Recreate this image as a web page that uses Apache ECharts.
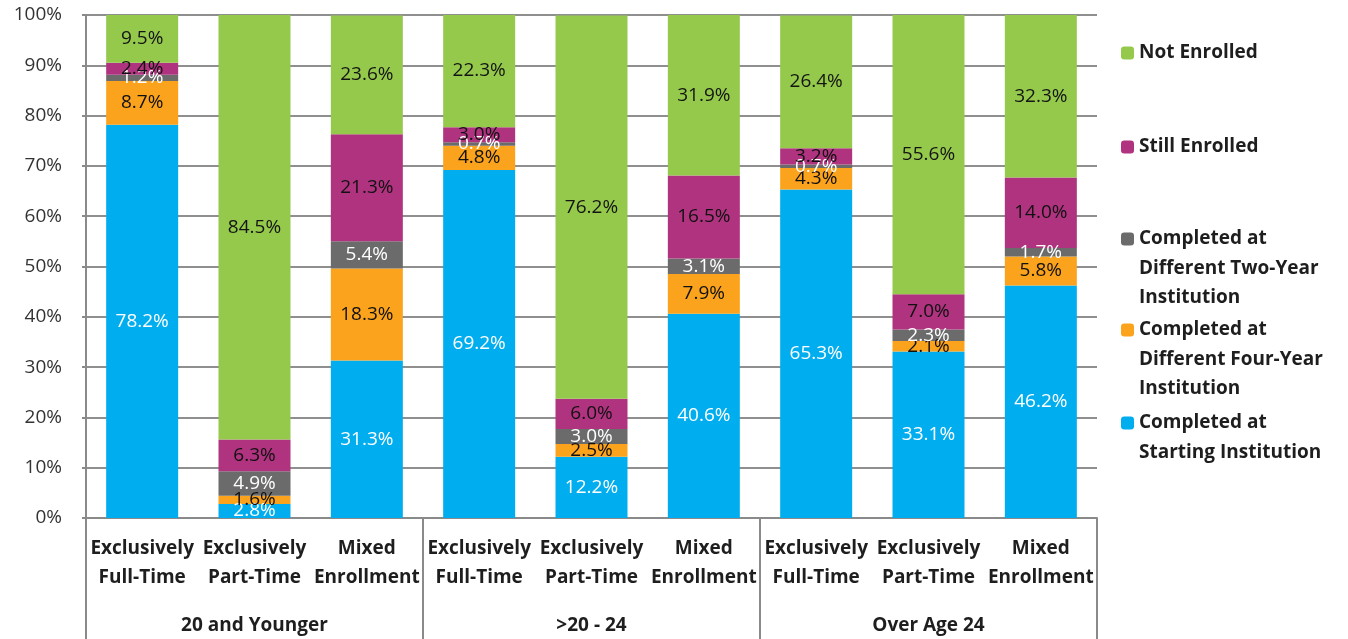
<!DOCTYPE html>
<html>
<head>
<meta charset="utf-8">
<script src="https://cdn.jsdelivr.net/npm/echarts@6/dist/echarts.min.js"></script>
<style>html,body{margin:0;padding:0;background:#fff}#c{width:1348px;height:639px}</style>
</head>
<body>
<div id="c"></div>
<script>
const categories = ['Exclusively\nFull-Time','Exclusively\nPart-Time','Mixed\nEnrollment','Exclusively\nFull-Time','Exclusively\nPart-Time','Mixed\nEnrollment','Exclusively\nFull-Time','Exclusively\nPart-Time','Mixed\nEnrollment'];
const groups = ['20 and Younger','>20 - 24','Over Age 24'];
const completedStarting = [78.2, 2.8, 31.3, 69.2, 12.2, 40.6, 65.3, 33.1, 46.2];
const completedFourYear = [8.7, 1.6, 18.3, 4.8, 2.5, 7.9, 4.3, 2.1, 5.8];
const completedTwoYear = [1.2, 4.9, 5.4, 0.7, 3.0, 3.1, 0.7, 2.3, 1.7];
const stillEnrolled = [2.4, 6.3, 21.3, 3.0, 6.0, 16.5, 3.2, 7.0, 14.0];
const notEnrolled = [9.5, 84.5, 23.6, 22.3, 76.2, 31.9, 26.4, 55.6, 32.3];
const yTicks = [0,10,20,30,40,50,60,70,80,90,100];

const FONT = 'Open Sans';
const seriesDefs = [
  {name:'Completed at Starting Institution', data:completedStarting, color:'#00AEEF', label:'#ffffff'},
  {name:'Completed at Different Four-Year Institution', data:completedFourYear, color:'#FBA31C', label:'#111111'},
  {name:'Completed at Different Two-Year Institution', data:completedTwoYear, color:'#6B6B6B', label:'#ffffff'},
  {name:'Still Enrolled', data:stillEnrolled, color:'#B0337F', label:'#111111'},
  {name:'Not Enrolled', data:notEnrolled, color:'#94C94B', label:'#141414'}
];
const legendLines = {
  'Not Enrolled':['Not Enrolled'],
  'Still Enrolled':['Still Enrolled'],
  'Completed at Different Two-Year Institution':['Completed at','Different Two-Year','Institution'],
  'Completed at Different Four-Year Institution':['Completed at','Different Four-Year','Institution'],
  'Completed at Starting Institution':['Completed at','Starting Institution']
};
const legendCenters = {
  'Not Enrolled':53,
  'Still Enrolled':147,
  'Completed at Different Two-Year Institution':239,
  'Completed at Different Four-Year Institution':330,
  'Completed at Starting Institution':423
};
const LH = 29.5;
const LEG_LEFT = 1121;
const legends = seriesDefs.map(s => ({
  data:[s.name], orient:'vertical', left:LEG_LEFT, top:legendCenters[s.name] - LH/2,
  padding:0, itemWidth:13, itemHeight:13, itemGap:0, selectedMode:false,
  formatter: () => legendLines[s.name][0],
  textStyle:{fontFamily:FONT, fontWeight:'bold', fontSize:19, color:'#1e1e1e', lineHeight:LH}
}));
const graphics = [];
seriesDefs.forEach(s => {
  legendLines[s.name].slice(1).forEach((t, i) => {
    graphics.push({type:'text', x:LEG_LEFT + 18, y:legendCenters[s.name] + (i+1)*LH,
      style:{text:t, fontFamily:FONT, fontWeight:'bold', fontSize:19, fill:'#1e1e1e', verticalAlign:'middle', align:'left'}});
  });
});

const option = {
  animation:false,
  backgroundColor:'#ffffff',
  legend: legends,
  graphic: graphics,
  grid:{left:86, right:251, top:15, bottom:121, containLabel:false},
  xAxis:[
    {type:'category', data:categories, position:'bottom',
     axisLine:{show:true, lineStyle:{color:'#8a8a8a', width:2}},
     axisTick:{show:false},
     axisLabel:{interval:0, margin:16, fontFamily:FONT, fontWeight:'bold', fontSize:19, color:'#1e1e1e', lineHeight:29}},
    {type:'category', data:groups, position:'bottom',
     axisLine:{show:false},
     axisTick:{show:true, length:121, lineStyle:{color:'#8a8a8a', width:2}},
     axisLabel:{interval:0, margin:98, fontFamily:FONT, fontWeight:'bold', fontSize:19, color:'#1e1e1e', lineHeight:20}}
  ],
  yAxis:{type:'value', min:0, max:100, interval:10,
    axisLine:{show:true, lineStyle:{color:'#8a8a8a', width:2}},
    axisTick:{show:true, length:4, lineStyle:{color:'#8a8a8a', width:2}},
    splitLine:{show:true, lineStyle:{color:'#8f8f8f', width:2}},
    axisLabel:{margin:24, fontFamily:FONT, fontSize:19, color:'#333333', formatter: v => yTicks.includes(v) ? v + '%' : ''}},
  series: seriesDefs.map(s => ({
    name:s.name, type:'bar', stack:'total', data:s.data, xAxisIndex:0,
    barWidth:72,
    itemStyle:{color:s.color},
    label:{show:true, position:'inside', formatter: p => p.value.toFixed(1) + '%',
      fontFamily:FONT, fontSize:19, color:s.label, textBorderWidth:0}
  }))
};
const chart = echarts.init(document.getElementById('c'), null, {renderer:'canvas'});
chart.setOption(option);
</script>
</body>
</html>
